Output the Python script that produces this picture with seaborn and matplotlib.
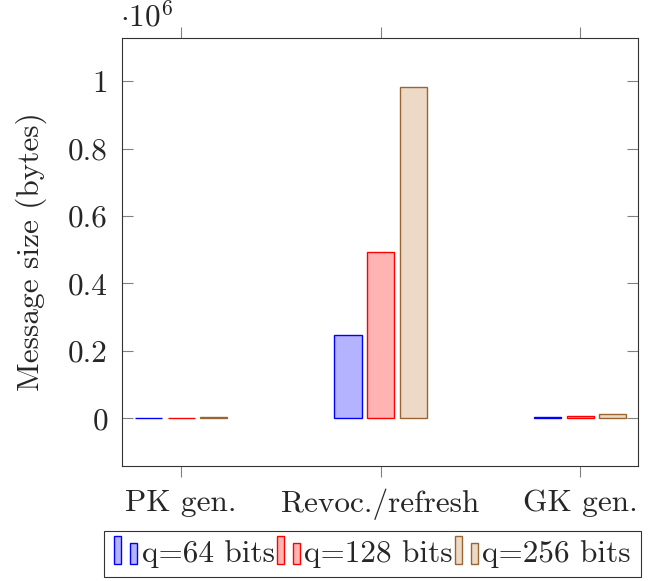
import matplotlib
matplotlib.use("Agg")
import matplotlib.pyplot as plt
import seaborn as sns
import pandas as pd
from matplotlib.patches import Rectangle
from matplotlib.legend_handler import HandlerBase

categories = ["PK gen.", "Revoc./refresh", "GK gen."]
series = ["q=64 bits", "q=128 bits", "q=256 bits"]
q64 = [1000, 245760, 3000]
q128 = [1500, 491520, 6000]
q256 = [2000, 983040, 12000]

fills = [(0.7, 0.7, 1.0), (1.0, 0.7, 0.7), (0.925, 0.85, 0.775)]
edges = [(0, 0, 1), (1, 0, 0), (0.6, 0.4, 0.2)]

rows = []
for s, vals in zip(series, [q64, q128, q256]):
    for c, v in zip(categories, vals):
        rows.append({"cat": c, "q": s, "size": v})
df = pd.DataFrame(rows)

sns.set_theme(style="white")
plt.rcParams["font.family"] = ["cmr10", "DejaVu Serif"]
plt.rcParams["mathtext.fontset"] = "cm"
plt.rcParams["axes.formatter.use_mathtext"] = True

FS = 22.5

fig = plt.figure(figsize=(6.49, 5.81), dpi=100)
ax = fig.add_axes([122 / 649, 1 - 466 / 581, (638 - 122) / 649, (466 - 38) / 581])

sns.barplot(data=df, x="cat", y="size", hue="q", order=categories, hue_order=series,
            width=0.49, gap=0.17, palette=fills, ax=ax, legend=False, errorbar=None)

for i, s in enumerate(series):
    for p in ax.containers[i]:
        p.set_facecolor(fills[i])
        p.set_edgecolor(edges[i])
        p.set_linewidth(1.0)

ax.set_xlim(-0.296, 2.29)
ax.set_ylim(-0.142e6, 1.128e6)
ax.set_yticks([0, 0.2e6, 0.4e6, 0.6e6, 0.8e6, 1.0e6])
ax.set_yticklabels(["0", "0.2", "0.4", "0.6", "0.8", "1"])
ax.set_xlabel("")
ax.set_ylabel("Message size (bytes)", fontsize=FS, labelpad=15)
ax.tick_params(axis="y", which="both", direction="in", length=8, color="#808080",
               labelsize=FS, right=True, left=True, width=0.8, pad=10)
ax.tick_params(axis="x", which="both", direction="out", length=8, color="#808080",
               labelsize=FS, top=True, bottom=True, width=0.8, pad=8.5)
for sp in ax.spines.values():
    sp.set_color("#333333")
    sp.set_linewidth(0.8)
fig.text(120 / 649, 1 - 18 / 581, r"$\cdot 10^6$", fontsize=FS, ha="left", va="center")


class TwoBarHandler(HandlerBase):
    def create_artists(self, legend, orig_handle, xdescent, ydescent, width, height, fontsize, trans):
        fc = orig_handle.get_facecolor()
        ec = orig_handle.get_edgecolor()
        w = width * 0.28
        r1 = Rectangle((-xdescent + width * 0.02, -ydescent - height * 0.1), w, height * 1.3,
                       facecolor=fc, edgecolor=ec, lw=1.0, transform=trans)
        r2 = Rectangle((-xdescent + width * 0.62, -ydescent - height * 0.1), w, height * 0.95,
                       facecolor=fc, edgecolor=ec, lw=1.0, transform=trans)
        return [r1, r2]


handles = [Rectangle((0, 0), 1, 1, facecolor=fills[i], edgecolor=edges[i]) for i in range(3)]
leg = fig.legend(handles, series, loc="center left", bbox_to_anchor=(104 / 649, 1 - 554 / 581),
                 ncol=3, fontsize=FS, frameon=True, fancybox=False, edgecolor="black",
                 handler_map={Rectangle: TwoBarHandler()}, handlelength=0.85, handletextpad=0.05,
                 columnspacing=0.05, borderpad=0.3, borderaxespad=0)
leg.get_frame().set_linewidth(0.8)

fig.savefig("out.png", dpi=100)
